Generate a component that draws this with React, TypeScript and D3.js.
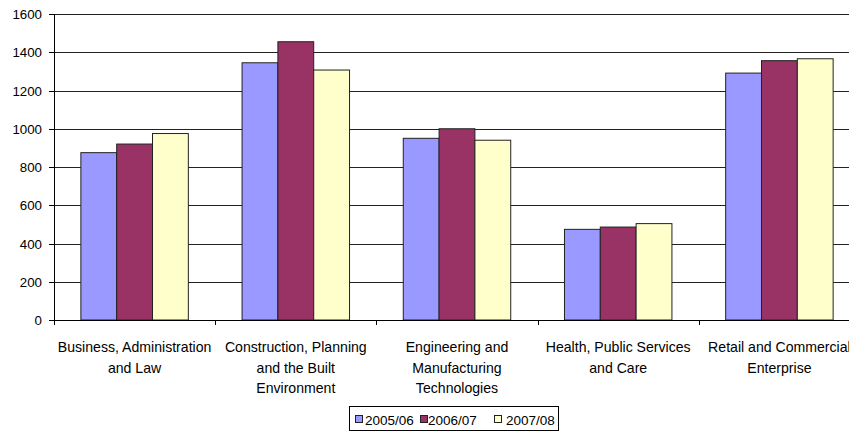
import React from "react";
import * as d3 from "d3";

const categories: string[][] = [
  ["Business, Administration", "and Law"],
  ["Construction, Planning", "and the Built", "Environment"],
  ["Engineering and", "Manufacturing", "Technologies"],
  ["Health, Public Services", "and Care"],
  ["Retail and Commercial", "Enterprise"],
];
const seriesNames = ["2005/06", "2006/07", "2007/08"];
const values2005 = [875, 1345, 950, 474, 1291];
const values2006 = [920, 1455, 1000, 486, 1356];
const values2007 = [975, 1307, 940, 504, 1366];
const seriesValues = [values2005, values2006, values2007];
const colors = ["#9999FF", "#993366", "#FFFFCC"];
const yTicks = [0, 200, 400, 600, 800, 1000, 1200, 1400, 1600];

const W = 849;
const H = 432;
const left = 54;
const top = 14;
const bottom = 320;
const bandW = 161.2;
const font = "'Liberation Sans', Arial, sans-serif";

export default function App() {
  const x = d3
    .scaleBand<number>()
    .domain(d3.range(categories.length))
    .range([left, left + bandW * categories.length])
    .padding(0);
  const y = d3.scaleLinear().domain([0, 1600]).range([bottom, top]);
  const bw = x.bandwidth() / 4.5;

  const legendItems = [
    { sx: 355, tx: 365 },
    { sx: 420, tx: 428 },
    { sx: 494, tx: 506 },
  ];

  return (
    <svg
      width={W}
      height={H}
      style={{ position: "absolute", left: 0, top: 0, background: "#fff" }}
    >
      {/* gridlines */}
      {yTicks.map((t) => (
        <line
          key={"g" + t}
          x1={left}
          x2={W}
          y1={Math.round(y(t)) + 0.5}
          y2={Math.round(y(t)) + 0.5}
          stroke={t === 0 ? "#000" : "#222"}
          strokeWidth={1}
        />
      ))}
      {/* bars */}
      {seriesValues.map((vals, si) =>
        vals.map((v, ci) => {
          const bx = (x(ci) as number) + bw * (0.75 + si);
          return (
            <rect
              key={si + "-" + ci}
              x={bx}
              y={y(v)}
              width={bw}
              height={y(0) - y(v)}
              fill={colors[si]}
              stroke="#222"
              strokeWidth={1}
            />
          );
        })
      )}
      {/* axes */}
      <line x1={left + 0.5} x2={left + 0.5} y1={top} y2={bottom + 0.5} stroke="#000" />
      <line x1={left} x2={W} y1={bottom + 0.5} y2={bottom + 0.5} stroke="#000" />
      {yTicks.map((t) => (
        <g key={"yt" + t}>
          <line
            x1={left - 5}
            x2={left}
            y1={Math.round(y(t)) + 0.5}
            y2={Math.round(y(t)) + 0.5}
            stroke="#000"
          />
          <text
            x={42}
            y={y(t) + 5}
            textAnchor="end"
            fontFamily={font}
            fontSize={13.3}
            fill="#000"
          >
            {t}
          </text>
        </g>
      ))}
      {d3.range(categories.length + 1).map((i) => {
        const tx = Math.round(left + bandW * i) + 0.5;
        return (
          <line key={"xt" + i} x1={tx} x2={tx} y1={bottom} y2={bottom + 5} stroke="#000" />
        );
      })}
      {categories.map((lines, ci) => (
        <text
          key={"c" + ci}
          textAnchor="middle"
          fontFamily={font}
          fontSize={14.1}
          fill="#000"
        >
          {lines.map((ln, li) => (
            <tspan key={li} x={(x(ci) as number) + x.bandwidth() / 2} y={352 + li * 20.5}>
              {ln}
            </tspan>
          ))}
        </text>
      ))}
      {/* legend */}
      <rect x={349.5} y={406.5} width={209} height={24} fill="#fff" stroke="#000" />
      {seriesNames.map((n, i) => (
        <g key={"l" + i}>
          <rect
            x={legendItems[i].sx + 0.5}
            y={415.5}
            width={7}
            height={7}
            fill={colors[i]}
            stroke="#222"
          />
          <text x={legendItems[i].tx} y={424.5} fontFamily={font} fontSize={13.5} fill="#000">
            {n}
          </text>
        </g>
      ))}
    </svg>
  );
}
